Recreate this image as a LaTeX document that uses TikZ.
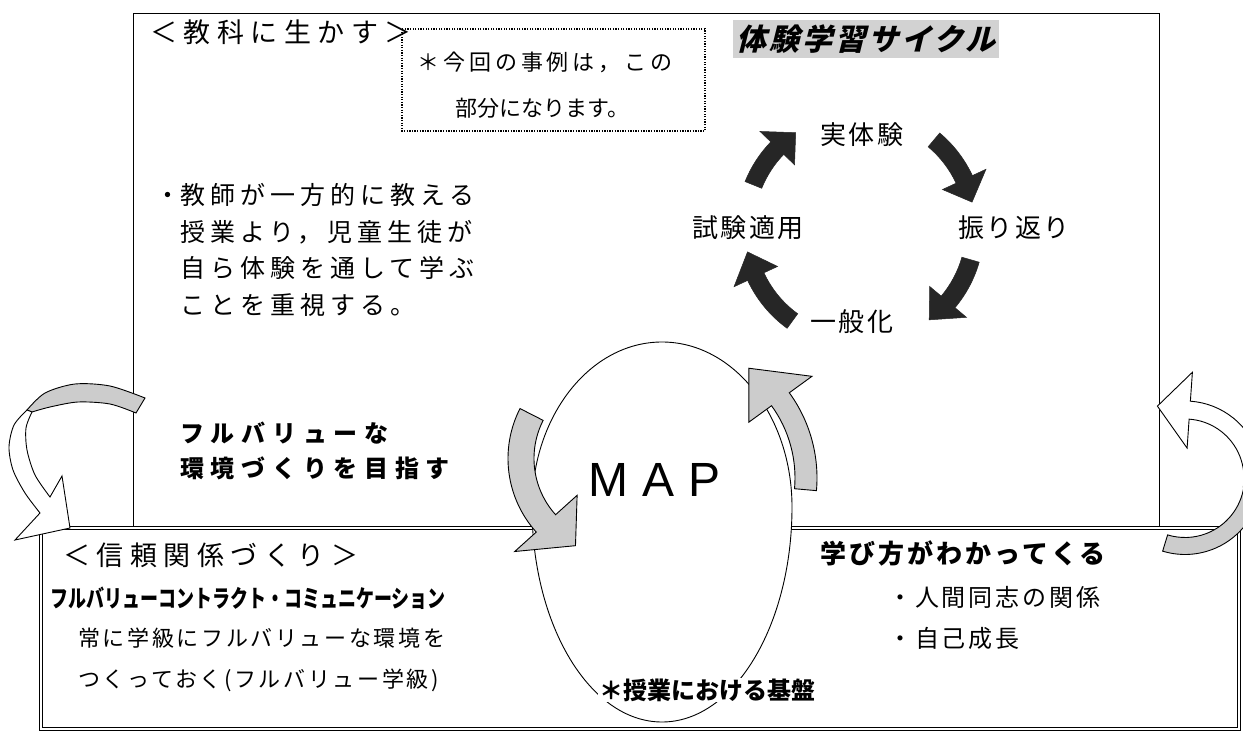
\documentclass[tikz,border=0pt]{standalone}
\usepackage{fontspec}
\setmainfont{Noto Sans CJK JP}
\newfontfamily\jpcond{Noto Sans CJK JP}[FakeStretch=0.75]
\newfontfamily\jpslant{Noto Sans CJK JP}[FakeSlant=0.25]
\newfontfamily\mapfont{Liberation Sans}
\usetikzlibrary{calc}
\newcommand\fsz[1]{\fontsize{#1}{#1}\selectfont}
\newcommand\lsp[1]{\addfontfeatures{LetterSpace=#1}}
% block arc arrow: #1 centre, #2 radius, #3 start, #4 body end, #5 tip angle, #6 half body, #7 half head, #8 style, #9 tip radial offset
\newcommand{\blockarc}[9]{%
  \path[#8] ($(#1)+(#3:{#2+#6})$) arc[start angle=#3, end angle=#4, radius={#2+#6}]
    -- ($(#1)+(#4:{#2+#7})$) -- ($(#1)+(#5:{#2+#9})$) -- ($(#1)+(#4:{#2-#7})$)
    -- ($(#1)+(#4:{#2-#6})$) arc[start angle=#4, end angle=#3, radius={#2-#6}] -- cycle;}
\tikzset{
  txt/.style={inner sep=0pt, anchor=west},
  darkarrow/.style={fill=black!85, draw=black!85, line width=0.5pt},
  grayarrow/.style={fill=gray!40, draw=black, line width=0.9pt, line join=miter},
  whitearrow/.style={fill=white, draw=black, line width=0.9pt, line join=miter},
  boxline/.style={draw=black, line width=1pt},
}
\begin{document}
\begin{tikzpicture}[x=1pt,y=-1pt]
\clip (0,0) rectangle (1243,733);
\fill[white] (0,0) rectangle (1243,733);
% upper box
\draw[boxline] (133,14) rectangle (1159,528);
% title
\node[fill=gray!35, inner xsep=3pt, inner ysep=5pt, anchor=west] (title) at (733,39)
  {\jpslant\bfseries\fsz{30}\lsp{10}体験学習サイクル};
\node[txt] (kyouka) at (150,32) {\fsz{27}\lsp{24}＜教科に生かす＞};
% dotted note box
\draw[dash pattern=on 1.3pt off 1.3pt, line width=1.3pt] (402,29) rectangle (705,131);
\node[txt] (note1) at (417,62) {\fsz{22}\lsp{18}＊今回の事例は，この};
\node[txt] (note2) at (455,108) {\fsz{22}部分になります。};
% cycle labels
\node[inner sep=0pt] (c1) at (862,135) {\fsz{26}\lsp{8}実体験};
\node[inner sep=0pt] (c2) at (1014,228) {\fsz{26}\lsp{8}振り返り};
\node[inner sep=0pt] (c3) at (852,322) {\fsz{26}\lsp{8}一般化};
\node[inner sep=0pt] (c4) at (748,228) {\fsz{26}\lsp{8}試験適用};
% cycle arrows
\coordinate (cyc) at (860,228);
\blockarc{cyc}{115}{-158}{-136}{-124}{9}{24}{darkarrow}{0}
\blockarc{cyc}{115}{-50}{-25}{-13}{9}{24}{darkarrow}{0}
\blockarc{cyc}{115}{16}{40}{53}{9}{24}{darkarrow}{0}
\blockarc{cyc}{115}{-234}{-205}{-192}{9}{24}{darkarrow}{0}
% left text
\node[txt] (l1) at (180,195) {\fsz{25}\lsp{20}\llap{・}教師が一方的に教える};
\node[txt] (l2) at (180,232) {\fsz{25}\lsp{20}授業より，児童生徒が};
\node[txt] (l3) at (180,268) {\fsz{25}\lsp{20}自ら体験を通して学ぶ};
\node[txt] (l4) at (180,305) {\fsz{25}\lsp{20}ことを重視する。};
\node[txt] (b1) at (180,433) {\bfseries\fsz{24}\lsp{28}フルバリューな};
\node[txt] (b2) at (180,468) {\bfseries\fsz{24}\lsp{28}環境づくりを目指す};
% lower box
\draw[double, double distance=2.6pt, line width=0.9pt] (41,528) rectangle (1239,729);
% MAP circle
\draw[fill=white, line width=0.9pt] (532,507) arc[start angle=180, end angle=360, x radius=130, y radius=165]
  arc[start angle=0, end angle=180, x radius=130, y radius=215] -- cycle;
\node[inner sep=0pt] (map) at (655,480) {\mapfont\fsz{48}M\hspace{14pt}A\hspace{14pt}P};
\coordinate (gr) at (672,478);
\coordinate (gl) at (618,458.5);
\blockarc{gr}{134}{5}{-36}{-55}{11}{39}{grayarrow}{0}
\blockarc{gl}{97}{-153}{-222}{-244}{13}{42}{grayarrow}{0}
% right big arrow
\coordinate (rb) at (1185,478);
\blockarc{rb}{68}{107}{9}{9}{8.5}{8.5}{grayarrow}{0}
\blockarc{rb}{68}{9}{-86}{-111}{9}{38}{whitearrow}{9}
% left big arrow
\filldraw[grayarrow] plot[smooth] coordinates {(145,398) (110,386) (75,384) (45,393) (27,410)}
  -- plot[smooth] coordinates {(32,412) (50,407) (78,402) (110,404) (136,413)} -- cycle;
\filldraw[whitearrow] plot[smooth] coordinates {(27,410) (14,425) (9,447) (13,470) (25,493) (40,513)}
  -- (15,540) -- (70,528) -- (62,476)
  -- plot[smooth] coordinates {(50,497) (35,475) (27,450) (26,428) (32,412)} -- cycle;
% lower box text
\node[txt] (shinrai) at (63,555) {\fsz{27}\lsp{24}＜信頼関係づくり＞};
\node[txt] (fvc) at (50,598) {\jpcond\bfseries\fsz{24}フルバリューコントラクト・コミュニケーション};
\node[txt] (tsune1) at (78,638) {\fsz{22}\lsp{12}常に学級にフルバリューな環境を};
\node[txt] (tsune2) at (78,680) {\fsz{22}\lsp{12}つくっておく(フルバリュー学級)};
\node[txt, fill=white, inner sep=1pt] (kiban) at (598,690) {\bfseries\fsz{24}＊授業における基盤};
\node[txt] (manabi) at (820,553) {\bfseries\fsz{26}\lsp{12}学び方がわかってくる};
\node[txt] (ningen) at (888,597) {\fsz{24}\lsp{12}・人間同志の関係};
\node[txt] (jiko) at (888,638) {\fsz{24}\lsp{12}・自己成長};
\end{tikzpicture}
\end{document}
